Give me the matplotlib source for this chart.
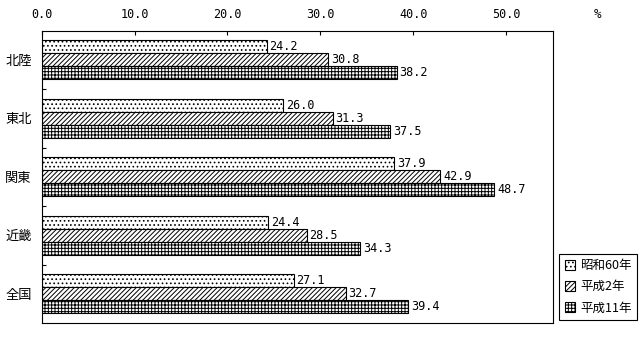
import numpy as np
import matplotlib
matplotlib.use('Agg')
import matplotlib.pyplot as plt

plt.rcParams['font.family'] = ['Noto Sans CJK JP', 'DejaVu Sans']
plt.rcParams['hatch.linewidth'] = 0.7

# Data
regions = ['北陸', '東北', '関東', '近畿', '全国']
series = ['昭和60年', '平成2年', '平成11年']
s60 = [24.2, 26.0, 37.9, 24.4, 27.1]
h2 = [30.8, 31.3, 42.9, 28.5, 32.7]
h11 = [38.2, 37.5, 48.7, 34.3, 39.4]
xticks = [0, 10, 20, 30, 40, 50]

hatches = ['....', '///////', '+++++']
values = [s60, h2, h11]

fig = plt.figure(figsize=(6.43, 3.37), dpi=100)
ax = fig.add_axes([41.5 / 643, 1 - 323 / 337, (553 - 41.5) / 643, (323 - 30.5) / 337])

y = np.arange(len(regions))
h = 0.22
for i, (vals, hat, name) in enumerate(zip(values, hatches, series)):
    bars = ax.barh(y + (i - 1) * h, vals, height=h, color='white', edgecolor='black',
                   linewidth=0.8, hatch=hat, label=name)
    ax.bar_label(bars, fmt='%.1f', padding=2, fontsize=8.5, family='DejaVu Sans Mono')

ax.set_xlim(0, 55)
ax.set_ylim(len(regions) - 0.5, -0.5)

# Axis on top with inward ticks
ax.xaxis.tick_top()
ax.set_xticks(xticks)
ax.set_xticklabels(['%.1f' % t for t in xticks], family='DejaVu Sans Mono', fontsize=8.5)
ax.tick_params(axis='x', direction='in', length=3, width=0.8, pad=7)

ax.set_yticks(y)
ax.set_yticklabels(regions, fontsize=9.5)
ax.tick_params(axis='y', which='major', length=0, pad=7)
ax.set_yticks(np.arange(0.5, len(regions) - 0.5, 1), minor=True)
ax.tick_params(axis='y', which='minor', direction='in', length=3, width=0.8)

for sp in ax.spines.values():
    sp.set_linewidth(0.8)

fig.text(598 / 643, 1 - 14 / 337, '%', ha='center', va='center', fontsize=9,
         family='DejaVu Sans Mono')

fig.legend(loc='lower right', bbox_to_anchor=(637 / 643, 1 - 320 / 337), fontsize=9,
           frameon=True, fancybox=False, edgecolor='black', framealpha=1,
           handlelength=0.8, handleheight=0.8, handletextpad=0.4, labelspacing=0.65,
           borderpad=0.45, borderaxespad=0)
fig.legends[0].get_frame().set_linewidth(0.8)

fig.savefig('out.png', dpi=100)
